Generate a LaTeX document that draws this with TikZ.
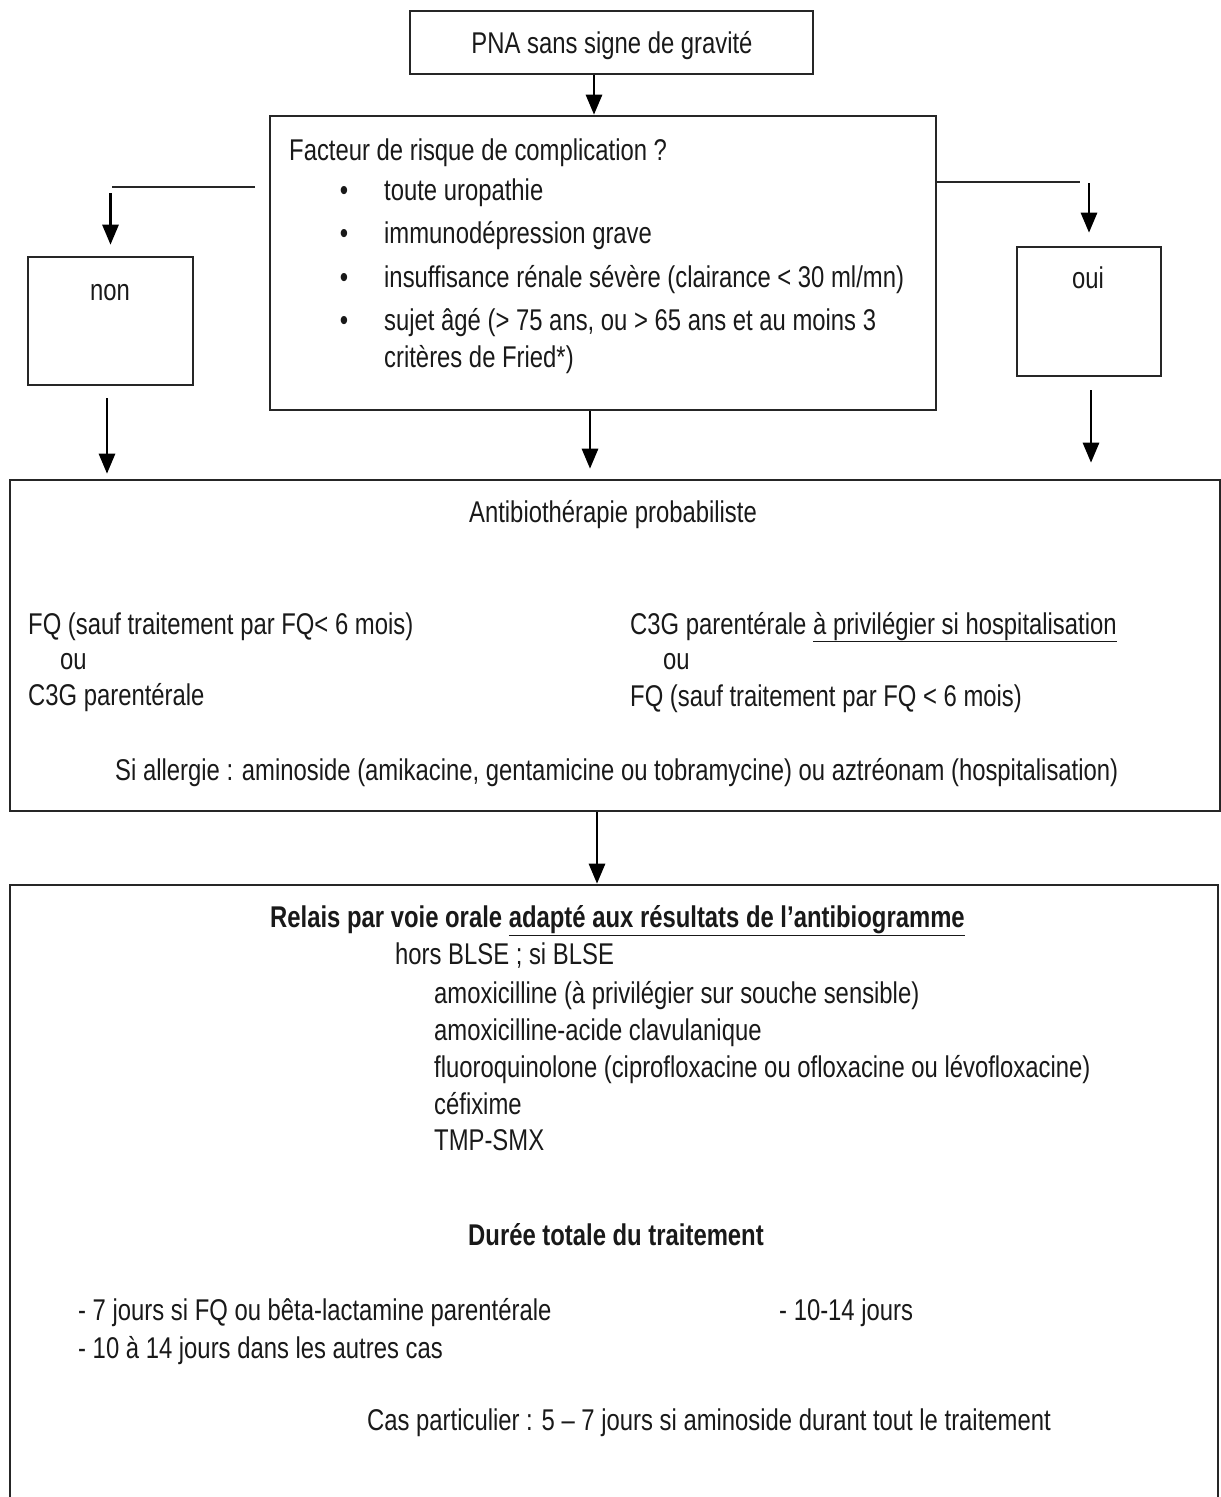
\documentclass[tikz,border=0pt]{standalone}
\usepackage{fontspec}
\setmainfont{Liberation Sans}[FakeStretch=0.795]
\usetikzlibrary{arrows.meta}
\begin{document}
\begin{tikzpicture}[x=1pt,y=-1pt,
  box/.style={draw=black!85, line width=2.6pt, inner sep=0pt},
  flow/.style={draw=black, line width=2.8pt, -{Triangle[width=16pt,length=20pt]}},
  link/.style={draw=black!85, line width=2.6pt},
  txt/.style={anchor=base west, inner sep=0pt, text=black!90, font=\fontsize{30}{36}\selectfont},
  ctxt/.style={txt, anchor=base},
  bul/.style={anchor=base, inner sep=0pt, text=black!90, font=\fontsize{30}{36}\selectfont}]
\useasboundingbox (0,0) rectangle (1221,1497);

% boxes
\node[box, minimum width=403pt, minimum height=63pt] (top) at (611.5,42.5) {};
\node[box, minimum width=666pt, minimum height=294pt] (fr) at (603,263) {};
\node[box, minimum width=165pt, minimum height=128pt] (non) at (110.5,321) {};
\node[box, minimum width=144pt, minimum height=129pt] (oui) at (1089,311.5) {};
\node[box, minimum width=1210pt, minimum height=331pt] (ab) at (615,645.5) {};
\node[box, minimum width=1208pt, minimum height=640pt] (relais) at (614,1205) {};

% connectors (yshift is measured upwards on the page)
\draw[flow] ([xshift=-17.5pt]top.south) -- ([xshift=-9pt]fr.north);
\coordinate (lstart) at (255,187);
\coordinate (lend) at (112,187);
\draw[link] (lstart) -- (lend);
\draw[flow] ([yshift=-6pt]lend -| non.north) -- ([yshift=11pt]non.north);
\coordinate (rend) at (1080,182);
\draw[link] (fr.east |- rend) -- (rend);
\draw[flow] ([yshift=-1pt]rend -| oui.north) -- ([yshift=13pt]oui.north);
\draw[flow] ([xshift=-3.5pt,yshift=-12pt]non.south) -- ([xshift=-3.5pt,yshift=5pt]non.south |- ab.north);
\draw[flow] ([xshift=-13pt]fr.south) -- ([xshift=-13pt,yshift=10pt]fr.south |- ab.north);
\draw[flow] ([xshift=2pt,yshift=-13pt]oui.south) -- ([xshift=2pt,yshift=16pt]oui.south |- ab.north);
\draw[flow] ([xshift=-18pt]ab.south) -- ([xshift=-18pt]ab.south |- relais.north);

% texts of the upper part
\node[ctxt] (t1) at (612,53) {PNA sans signe de gravité};
\node[txt] (q) at (289,160) {Facteur de risque de complication ?};
\foreach \yy/\nm in {200/b1,243/b2,287/b3,330/b4}
  \node[bul] (\nm) at (344,\yy) {•};
\node[txt] (f1) at (384,200) {toute uropathie};
\node[txt] (f2) at (384,243) {immunodépression grave};
\node[txt] (f3) at (384,287) {insuffisance rénale sévère (clairance < 30 ml/mn)};
\node[txt] (f4) at (384,330) {sujet âgé (> 75 ans, ou > 65 ans et au moins 3};
\node[txt] (f5) at (384,367) {critères de Fried*)};
\node[ctxt] (tn) at (110,300) {non};
\node[ctxt] (to) at (1088,288) {oui};

% empirical antibiotic therapy
\node[ctxt] (abt) at (613,522) {Antibiothérapie probabiliste};
\node[txt] (l1) at (28,634) {FQ (sauf traitement par FQ< 6 mois)};
\node[txt] (l2) at (60,669) {ou};
\node[txt] (l3) at (28,705) {C3G parentérale};
\node[txt] (r1) at (630,634) {C3G parentérale \underline{à privilégier si hospitalisation}};
\node[txt] (r2) at (663,669) {ou};
\node[txt] (r3) at (630,706) {FQ (sauf traitement par FQ < 6 mois)};
\node[txt] (al) at (115,780) {Si allergie : aminoside (amikacine, gentamicine ou tobramycine) ou aztréonam (hospitalisation)};

% oral relay
\node[txt, font=\fontsize{30}{36}\selectfont\bfseries] (rl) at (270,927) {Relais par voie orale \underline{adapté aux résultats de l’antibiogramme}};
\node[txt] (hb) at (395,964) {hors BLSE ; si BLSE};
\node[txt] (o1) at (434,1003) {amoxicilline (à privilégier sur souche sensible)};
\node[txt] (o2) at (434,1040) {amoxicilline-acide clavulanique};
\node[txt] (o3) at (434,1077) {fluoroquinolone (ciprofloxacine ou ofloxacine ou lévofloxacine)};
\node[txt] (o4) at (434,1114) {céfixime};
\node[txt] (o5) at (434,1150) {TMP-SMX};

% total duration
\node[ctxt, font=\fontsize{30}{36}\selectfont\bfseries] (du) at (616,1245) {Durée totale du traitement};
\node[txt] (d1) at (78,1320) {- 7 jours si FQ ou bêta-lactamine parentérale};
\node[txt] (d2) at (78,1358) {- 10 à 14 jours dans les autres cas};
\node[txt] (d3) at (779,1320) {- 10-14 jours};
\node[txt] (cp) at (367,1430) {Cas particulier : 5 – 7 jours si aminoside durant tout le traitement};
\end{tikzpicture}
\end{document}
